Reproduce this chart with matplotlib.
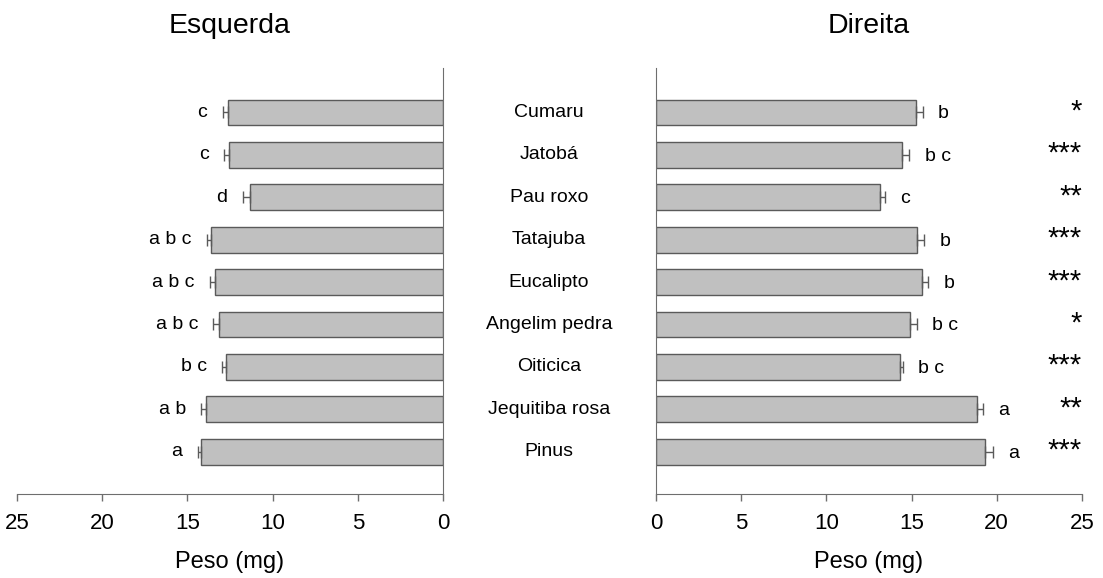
import matplotlib

matplotlib.use("Agg")
import matplotlib.pyplot as plt
from matplotlib.transforms import blended_transform_factory

# espécies de madeira, de baixo (Pinus) para cima (Cumaru)
especies = ["Pinus", "Jequitiba rosa", "Oiticica", "Angelim pedra", "Eucalipto",
            "Tatajuba", "Pau roxo", "Jatobá", "Cumaru"]

# lado esquerdo: média e erro padrão (mg)
esq_media = [14.18, 13.91, 12.75, 13.16, 13.40, 13.62, 11.33, 12.58, 12.63]
esq_erro = [0.22, 0.27, 0.20, 0.32, 0.28, 0.25, 0.42, 0.27, 0.30]
esq_letras = ["a", "a b", "b c", "a b c", "a b c", "a b c", "d", "c", "c"]

# lado direito
dir_media = [19.29, 18.84, 14.30, 14.89, 15.61, 15.30, 13.15, 14.44, 15.24]
dir_erro = [0.47, 0.37, 0.21, 0.41, 0.37, 0.43, 0.29, 0.43, 0.41]
dir_letras = ["a", "a", "b c", "b c", "b", "b", "c", "b c", "b"]

# significância esquerda x direita
signif = ["***", "**", "***", "*", "***", "***", "**", "***", "*"]

plt.rcParams["font.family"] = ["Liberation Sans", "DejaVu Sans"]
COR_BARRA = "#c0c0c0"
COR_BORDA = "#5a5a5a"
COR_EIXO = "#6e6e6e"

fig = plt.figure(figsize=(11.03, 5.78), dpi=100)
ax_e = fig.add_axes([0.0154, 0.1453, 0.3862, 0.7371])
ax_d = fig.add_axes([0.5947, 0.1453, 0.3862, 0.7371])

y = list(range(len(especies)))

for ax, media, erro in [(ax_e, esq_media, esq_erro), (ax_d, dir_media, dir_erro)]:
    ax.barh(y, media, height=0.61, color=COR_BARRA, edgecolor=COR_BORDA, lw=1.0, zorder=2)
    # só a barra de erro externa
    ax.errorbar(media, y, xerr=[[0] * len(media), erro], fmt="none",
                ecolor=COR_BORDA, elinewidth=1.0, capsize=4.5, capthick=1.0, zorder=3)
    ax.set_xlim(0, 25)
    ax.set_ylim(-1, 9.05)
    ax.set_xticks([0, 5, 10, 15, 20, 25])
    ax.set_yticks([])
    ax.tick_params(axis="x", labelsize=16, length=5, width=1, color=COR_EIXO, pad=9)
    ax.set_xlabel("Peso (mg)", fontsize=17, labelpad=12)
    for s in ["top", "left", "right"]:
        ax.spines[s].set_visible(False)
    ax.spines["bottom"].set_color(COR_EIXO)

# lado esquerdo cresce para a esquerda
ax_e.invert_xaxis()
ax_e.spines["right"].set_visible(True)
ax_e.spines["right"].set_color(COR_EIXO)
ax_d.spines["left"].set_visible(True)
ax_d.spines["left"].set_color(COR_EIXO)

ax_e.set_title("Esquerda", fontsize=20.5, pad=25)
ax_d.set_title("Direita", fontsize=20.5, pad=25)

for yi, m, e, let in zip(y, esq_media, esq_erro, esq_letras):
    ax_e.annotate(let, (m + e, yi), textcoords="offset points", xytext=(-11, 0),
                  ha="right", va="center", fontsize=14)

for yi, m, e, let in zip(y, dir_media, dir_erro, dir_letras):
    ax_d.annotate(let, (m + e, yi), textcoords="offset points", xytext=(11, -1),
                  ha="left", va="center", fontsize=14)

for yi, s in zip(y, signif):
    ax_d.text(25, yi + 0.02, s, ha="right", va="center", fontsize=21)

# nomes das espécies entre os dois painéis
trans = blended_transform_factory(fig.transFigure, ax_d.transData)
for yi, nome in zip(y, especies):
    fig.text(549 / 1103, yi, nome, transform=trans, ha="center", va="center", fontsize=14)

fig.savefig("out.png", dpi=100)
